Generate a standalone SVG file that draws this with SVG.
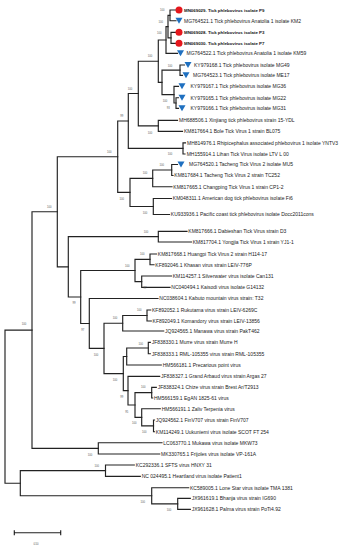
<svg xmlns="http://www.w3.org/2000/svg" xmlns:xlink="http://www.w3.org/1999/xlink" width="345" height="550" viewBox="0 0 345 550">
<style>
.br{fill:none;stroke:#222;stroke-width:1.15;stroke-linecap:square}
.tip{font-family:"Liberation Sans",Arial,sans-serif;font-size:5px;fill:#222}
.bold{font-weight:bold;font-size:4.4px;fill:#111}
.bs{font-family:"Liberation Sans",Arial,sans-serif;font-size:2.7px;fill:#555;text-anchor:middle}
.red{fill:#e5171d}
.blue{fill:#1f70c0}
</style>
<defs>
<path id="tri" d="M-3.5,-3 L3.5,-3 L0,3 Z"/>
</defs>
<rect width="345" height="550" fill="#fff"/>
<g id="connectors" class="br">
<path d="M176,10 H170 V20.7 H176"/>
<path d="M176,32.3 H171 V43.3 H176"/>
<path d="M170,15.35 H168 V37.8 H171"/>
<path d="M168,26.6 H166 V53.3 H177.5"/>
<path d="M184.5,65 H180 V75.3 H182.5"/>
<path d="M178.5,97.7 H176 V108.3 H178.5"/>
<path d="M178.5,86.3 H174 V103 H176"/>
<path d="M180,70.15 H162 V94.65 H174"/>
<path d="M166,39.95 H158.3 V82.4 H162"/>
<path d="M177.5,120.3 H158.3 V131.3 H182.5"/>
<path d="M158.3,61.2 H138.3 V125.8 H158.3"/>
<path d="M185.5,142.8 H183 V154 H185"/>
<path d="M138.3,93.5 H128.3 V148.4 H183"/>
<path d="M177.5,164.5 H171.7 V175.5 H173"/>
<path d="M171.7,170 H152.7 V186.7 H172"/>
<path d="M171.5,198.5 H153.3 V214.5 H169.5"/>
<path d="M152.7,178.35 H130 V206.5 H153.3"/>
<path d="M128.3,120.95 H117.7 V192.4 H130"/>
<path d="M187,231.3 H158.3 V242 H191.5"/>
<path d="M156.5,254 H150 V264.7 H154"/>
<path d="M171.5,276 H141.7 V287.3 H170"/>
<path d="M150,259.35 H135 V281.65 H141.7"/>
<path d="M150.7,310 H147 V321 H151.3"/>
<path d="M147,315.5 H122.7 V331 H163.7"/>
<path d="M150.3,342.3 H148.3 V353.7 H150.3"/>
<path d="M148.3,348 H126.7 V365 H161.3"/>
<path d="M156.3,387.3 H151.7 V398 H152.7"/>
<path d="M154.5,420 H153.5 V431.7 H154.5"/>
<path d="M160.3,408.7 H141.7 V425.85 H153.5"/>
<path d="M151.7,392.65 H135 V417.3 H141.7"/>
<path d="M159.7,376.3 H128 V404.95 H135"/>
<path d="M126.7,356.5 H123.3 V390.6 H128"/>
<path d="M122.7,323.25 H104 V373.55 H123.3"/>
<path d="M158,298.5 H89.3 V348.4 H104"/>
<path d="M135,270.5 H80.7 V323.45 H89.3"/>
<path d="M158.3,236.65 H68.3 V296.98 H80.7"/>
<path d="M117.7,156.7 H57.3 V266.8 H68.3"/>
<path d="M162,442.7 H98.3 V454 H159.7"/>
<path d="M57.3,211.75 H32 V448.35 H98.3"/>
<path d="M134.3,465 H105.5 V476.3 H140.3"/>
<path d="M190.3,498.3 H177.7 V509.3 H190.3"/>
<path d="M188.7,487.7 H151.7 V503.8 H177.7"/>
<path d="M105.5,470.65 H20.3 V495.75 H151.7"/>
<path d="M32,330.05 H5 V483.2 H20.3"/>
</g>
<g id="bootstrap" class="bs">
<text x="162.3" y="10.9">100</text>
<text x="160.7" y="22.6">100</text>
<text x="159.3" y="34.2">100</text>
<text x="150" y="56.9">100</text>
<text x="170" y="66.9">100</text>
<text x="165" y="101.9">100</text>
<text x="168.3" y="109.2">93</text>
<text x="150" y="133.6">100</text>
<text x="130" y="90.2">100</text>
<text x="121.7" y="116.9">99</text>
<text x="170" y="154.9">100</text>
<text x="109.3" y="152.6">100</text>
<text x="161.7" y="165.9">100</text>
<text x="145" y="174.2">100</text>
<text x="121.7" y="199.9">100</text>
<text x="145" y="214.2">100</text>
<text x="49.3" y="207.6">100</text>
<text x="146" y="232.9">100</text>
<text x="142.3" y="255.2">100</text>
<text x="127.3" y="266.6">100</text>
<text x="145" y="289.2">97</text>
<text x="74" y="304.2">99</text>
<text x="82.7" y="330.9">97</text>
<text x="139.3" y="310.9">100</text>
<text x="115" y="319.2">100</text>
<text x="96" y="355.9">100</text>
<text x="140.7" y="344.9">100</text>
<text x="115" y="380.9">100</text>
<text x="143.3" y="388.2">100</text>
<text x="121.7" y="397.6">99</text>
<text x="126.7" y="412.6">95</text>
<text x="134.3" y="424.2">100</text>
<text x="144.3" y="433.4">100</text>
<text x="90" y="455.9">100</text>
<text x="96.7" y="466.6">100</text>
<text x="142.7" y="502.6">100</text>
<text x="169" y="510.9">100</text>
<text x="24" y="325.2">100</text>
</g>
<g id="t01"><circle class="red" cx="179" cy="10" r="3.5"/><text class="tip bold" x="184" y="11.6">MN069029. Tick phlebovirus isolate P9</text></g>
<g id="t02"><use href="#tri" class="blue" x="179" y="20.7"/><text class="tip" x="184" y="22.5">MG764521.1 Tick phlebovirus Anatolia 1 isolate KM2</text></g>
<g id="t03"><circle class="red" cx="179" cy="32.3" r="3.5"/><text class="tip bold" x="184" y="33.9">MN069028. Tick phlebovirus isolate P3</text></g>
<g id="t04"><circle class="red" cx="179" cy="43.3" r="3.5"/><text class="tip bold" x="184" y="44.9">MN069030. Tick phlebovirus isolate P7</text></g>
<g id="t05"><use href="#tri" class="blue" x="180.5" y="53.3"/><text class="tip" x="186.5" y="55.1">MG764522.1 Tick phlebovirus Anatolia 1 isolate KM59</text></g>
<g id="t06"><use href="#tri" class="blue" x="188" y="65"/><text class="tip" x="194" y="66.8">KY979168.1 Tick phlebovirus isolate MG49</text></g>
<g id="t07"><use href="#tri" class="blue" x="186" y="75.3"/><text class="tip" x="193" y="77.1">MG764523.1 Tick phlebovirus isolate ME17</text></g>
<g id="t08"><use href="#tri" class="blue" x="182" y="86.3"/><text class="tip" x="190.5" y="88.1">KY979167.1 Tick phlebovirus isolate MG36</text></g>
<g id="t09"><use href="#tri" class="blue" x="182" y="97.7"/><text class="tip" x="190.5" y="99.5">KY979165.1 Tick phlebovirus isolate MG22</text></g>
<g id="t10"><use href="#tri" class="blue" x="182" y="108.3"/><text class="tip" x="190.5" y="110.1">KY979166.1 Tick phlebovirus isolate MG31</text></g>
<g id="t11"><text class="tip" x="179" y="122.1">MH688506.1 Xinjiang tick phlebovirus strain 15-YDL</text></g>
<g id="t12"><text class="tip" x="184" y="133.1">KM817664.1 Bole Tick Virus 1 strain BL075</text></g>
<g id="t13"><text class="tip" x="187" y="144.6">MH814976.1 Rhipicephalus associated phlebovirus 1 isolate YNTV3</text></g>
<g id="t14"><text class="tip" x="186.7" y="155.8">MH155914.1 Lihan Tick Virus isolate LTV L 00</text></g>
<g id="t15"><use href="#tri" class="blue" x="181" y="164.5"/><text class="tip" x="189" y="166.3">MG764520.1 Tacheng Tick Virus 2 isolate MU5</text></g>
<g id="t16"><text class="tip" x="174.3" y="177.3">KM817684.1 Tacheng Tick Virus 2 strain TC252</text></g>
<g id="t17"><text class="tip" x="173.3" y="188.5">KM817665.1 Changping Tick Virus 1 strain CP1-2</text></g>
<g id="t18"><text class="tip" x="172.8" y="200.3">KM048311.1 American dog tick phlebovirus isolate Fi6</text></g>
<g id="t19"><text class="tip" x="170.8" y="216.3">KU933936.1 Pacific coast tick phlebovirus isolate Docc2011cons</text></g>
<g id="t20"><text class="tip" x="188.3" y="233.1">KM817666.1 Dabieshan Tick Virus strain D3</text></g>
<g id="t21"><text class="tip" x="192.7" y="243.8">KM817704.1 Yongjia Tick Virus 1 strain YJ1-1</text></g>
<g id="t22"><text class="tip" x="157.8" y="255.8">KM817668.1 Huangpi Tick Virus 2 strain H114-17</text></g>
<g id="t23"><text class="tip" x="155.3" y="266.5">KF892046.1 Khasan virus strain LEIV-776P</text></g>
<g id="t24"><text class="tip" x="172.7" y="277.8">KM114257.1 Silverwater virus isolate Can131</text></g>
<g id="t25"><text class="tip" x="171.3" y="289.1">NC040494.1 Kaisodi virus isolate G14132</text></g>
<g id="t26"><text class="tip" x="159.3" y="300.3">NC038604.1 Kabuto mountain virus strain: T32</text></g>
<g id="t27"><text class="tip" x="152" y="311.8">KF892052.1 Rukutama virus strain LEIV-6269C</text></g>
<g id="t28"><text class="tip" x="152.6" y="322.8">KF892049.1 Komandory virus strain LEIV-13856</text></g>
<g id="t29"><text class="tip" x="165" y="332.8">JQ924565.1 Manawa virus strain PakT462</text></g>
<g id="t30"><text class="tip" x="151.7" y="344.1">JF838330.1 Murre virus strain Murre H</text></g>
<g id="t31"><text class="tip" x="151.7" y="355.5">JF838333.1 RML-105355 virus strain RML-105355</text></g>
<g id="t32"><text class="tip" x="162.7" y="366.8">HM566181.1 Precarious point virus</text></g>
<g id="t33"><text class="tip" x="161" y="378.1">JF838327.1 Grand Arbaud virus strain Argas 27</text></g>
<g id="t34"><text class="tip" x="157.7" y="389.1">JF838324.1 Chize virus strain Brest Ar/T2913</text></g>
<g id="t35"><text class="tip" x="154" y="399.8">HM566159.1 EgAN 1825-61 virus</text></g>
<g id="t36"><text class="tip" x="161.7" y="410.5">HM566191.1 Zaliv Terpenia virus</text></g>
<g id="t37"><text class="tip" x="155.8" y="421.8">JQ924562.1 FinV707 virus strain FinV707</text></g>
<g id="t38"><text class="tip" x="155.8" y="433.5">KM114249.1 Uukuniemi virus isolate SCOT FT 254</text></g>
<g id="t39"><text class="tip" x="163.3" y="444.5">LC063770.1 Mukawa virus isolate MKW73</text></g>
<g id="t40"><text class="tip" x="161" y="455.8">MK330765.1 Frijoles virus isolate VP-161A</text></g>
<g id="t41"><text class="tip" x="135.7" y="466.8">KC292336.1 SFTS virus HNXY 31</text></g>
<g id="t42"><text class="tip" x="141.7" y="478.1">NC 024495.1 Heartland virus isolate Patient1</text></g>
<g id="t43"><text class="tip" x="190" y="489.5">KC589005.1 Lone Star virus isolate TMA 1381</text></g>
<g id="t44"><text class="tip" x="191.7" y="500.1">JX961619.1 Bhanja virus strain IG690</text></g>
<g id="t45"><text class="tip" x="191.7" y="511.1">JX961628.1 Palma virus strain PoTi4.92</text></g>
<g id="scale">
<path class="br" d="M14.3,532.7 H60.7 M14.3,530.7 V534.7 M60.7,530.7 V534.7"/>
<text class="bs" x="36" y="545.2">0.50</text>
</g>
</svg>
